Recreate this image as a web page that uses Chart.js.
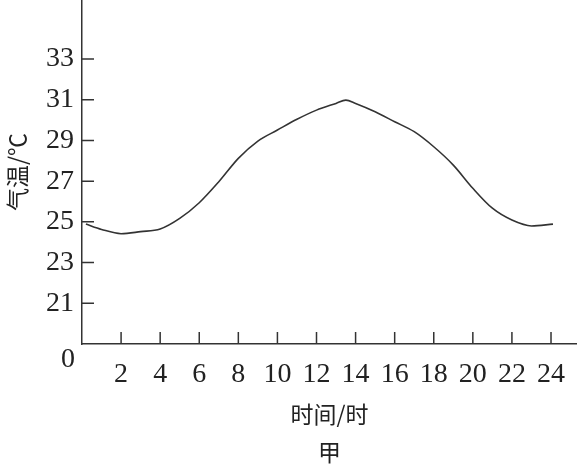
<!DOCTYPE html>
<html>
<head>
<meta charset="utf-8">
<script src="https://cdn.jsdelivr.net/npm/chart.js@4"></script>
<style>
  html, body { margin: 0; padding: 0; background: #fff; }
  #wrap { width: 577px; height: 468px; }
</style>
</head>
<body>
<div id="wrap"><canvas id="myChart"></canvas></div>
<script>
// hours of day and air temperature
const hours = [0.2, 1, 2, 3, 4, 5, 6, 7, 8, 9, 10, 11, 12, 13, 13.5, 14, 15, 16, 17, 18, 19, 20, 21, 22, 23, 24.1];
const temps = [24.89, 24.63, 24.42, 24.52, 24.65, 25.17, 25.94, 26.97, 28.12, 28.97, 29.51, 30.04, 30.49, 30.82, 30.98, 30.82, 30.41, 29.92, 29.43, 28.69, 27.79, 26.65, 25.67, 25.09, 24.8, 24.89];
const xTicks = [2, 4, 6, 8, 10, 12, 14, 16, 18, 20, 22, 24];
const yTicks = [21, 23, 25, 27, 29, 31, 33];
const yBreakLabel = "0";
const xTitle = ["时间/时", "甲"];
const yTitle = "气温/℃";

const ink = "#333";
const numFont = { family: "'Liberation Serif', 'DejaVu Serif', serif", size: 28 };
const cjkFont = { family: "'Noto Sans CJK SC', sans-serif", size: 23 };

// small tick marks pointing into the plot, plus the "0" at the broken origin
const innerTicks = {
  id: "innerTicks",
  afterDraw(chart) {
    const { ctx, scales: { x, y } } = chart;
    ctx.save();
    ctx.strokeStyle = ink;
    ctx.lineWidth = 1.5;
    ctx.beginPath();
    x.ticks.forEach((t) => {
      const px = x.getPixelForValue(t.value);
      ctx.moveTo(px, y.bottom);
      ctx.lineTo(px, y.bottom - 12);
    });
    y.ticks.forEach((t) => {
      const py = y.getPixelForValue(t.value);
      ctx.moveTo(x.left, py);
      ctx.lineTo(x.left + 12, py);
    });
    ctx.stroke();
    ctx.fillStyle = "#222";
    ctx.font = numFont.size + "px " + numFont.family;
    ctx.textAlign = "center";
    ctx.textBaseline = "middle";
    ctx.fillText(yBreakLabel, x.left - 14, y.bottom + 16);
    ctx.restore();
  },
};

const ctx = document.getElementById("myChart").getContext("2d");
new Chart(ctx, {
  type: "line",
  data: {
    datasets: [
      {
        data: hours.map((h, i) => ({ x: h, y: temps[i] })),
        borderColor: ink,
        borderWidth: 1.6,
        pointRadius: 0,
        fill: false,
        cubicInterpolationMode: "monotone",
      },
    ],
  },
  options: {
    responsive: true,
    maintainAspectRatio: false,
    animation: false,
    layout: { padding: 0 },
    plugins: { legend: { display: false }, tooltip: { enabled: false } },
    scales: {
      x: {
        type: "linear",
        min: 0,
        max: 25.33,
        afterBuildTicks: (s) => { s.ticks = xTicks.map((v) => ({ value: v })); },
        afterFit: (s) => {
          s.height = 124;
          s.paddingLeft = 0;
          s.paddingRight = 0;
        },
        grid: { display: false, drawTicks: false },
        border: { display: true, color: ink, width: 1.5 },
        ticks: { color: "#222", font: numFont, padding: 14, maxRotation: 0, autoSkip: false },
        title: {
          display: true,
          text: xTitle,
          color: "#222",
          font: { ...cjkFont, lineHeight: "38px" },
          padding: { top: 0, bottom: -3 },
        },
      },
      y: {
        type: "linear",
        min: 19,
        max: 35.9,
        afterBuildTicks: (s) => { s.ticks = yTicks.map((v) => ({ value: v })); },
        afterFit: (s) => {
          s.width = 82;
          s.paddingTop = 0;
          s.paddingBottom = 0;
        },
        grid: { display: false, drawTicks: false },
        border: { display: true, color: ink, width: 1.5 },
        ticks: { color: "#222", font: numFont, padding: 8, autoSkip: false },
        title: {
          display: true,
          text: yTitle,
          color: "#222",
          font: cjkFont,
          padding: { top: 3, bottom: 0 },
        },
      },
    },
  },
  plugins: [innerTicks],
});
</script>
</body>
</html>
